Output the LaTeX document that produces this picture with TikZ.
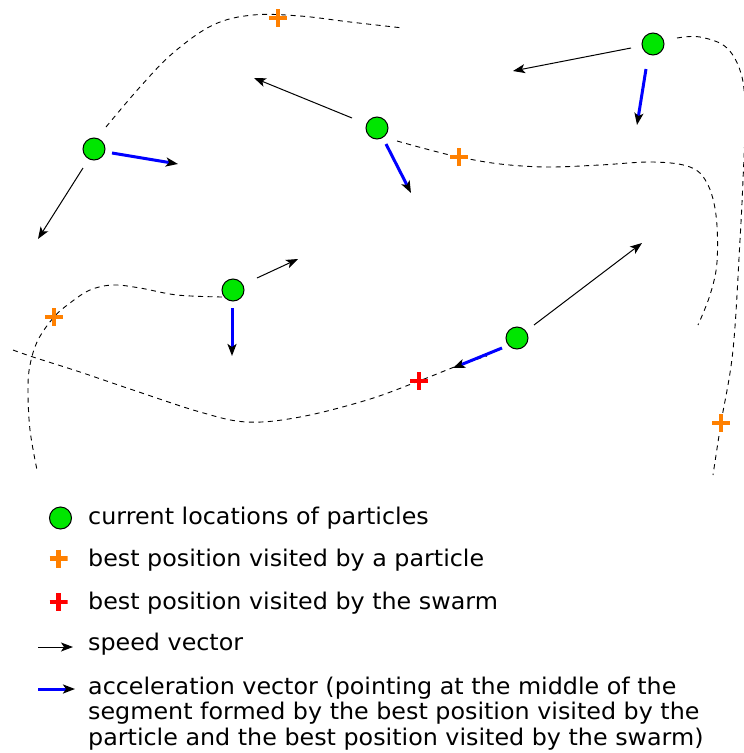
\documentclass[tikz,border=0pt]{standalone}
\usepackage{fontspec}
\setmainfont{DejaVu Sans}[FakeStretch=1.035]
\usetikzlibrary{arrows.meta}
\definecolor{pgreen}{RGB}{0,230,0}
\definecolor{porange}{RGB}{255,128,0}
\definecolor{pred}{RGB}{255,0,0}
\definecolor{pblue}{RGB}{0,0,255}
\tikzset{
  particle/.style={circle, draw=black, line width=1pt, fill=pgreen, minimum size=22pt, inner sep=0pt},
  crossmark/.style={inner sep=0pt, minimum size=18pt, path picture={
      \draw[#1, line width=4.5pt] (path picture bounding box.north) -- (path picture bounding box.south)
        (path picture bounding box.west) -- (path picture bounding box.east);}},
  trail/.style={dash pattern=on 5pt off 4.5pt, line width=0.9pt},
  speedvec/.style={line width=1pt, -{Stealth[length=12pt, width=9pt, inset=3pt]}},
  accvec/.style={pblue, line width=3pt, -{Stealth[length=12pt, width=9pt, inset=3pt, color=black]}},
  legtext/.style={anchor=base west, inner sep=0pt, font=\fontsize{23pt}{26pt}\selectfont},
}
\begin{document}
\begin{tikzpicture}[x=1pt, y=-1pt]
\useasboundingbox (0,0) rectangle (744,753);
% dashed trails
\draw[trail] plot[smooth, tension=0.6] coordinates {(106,127) (140,87) (173,53) (213,25) (253,15) (300,16) (350,22) (403,28)};
\draw[trail] plot[smooth, tension=0.6] coordinates {(397,141) (430,150) (459,157) (500,164) (547,167) (600,165) (653,162) (690,167) (707,183) (716,215) (717,262) (710,295) (698,325)};
\draw[trail] plot[smooth, tension=0.6] coordinates {(677,38) (700,37) (727,48) (742,77) (745,120) (743,180) (740,240) (733,350) (721,423) (713,475)};
\draw[trail] plot[smooth, tension=0.6] coordinates {(222,297) (177,295) (140,288) (113,285) (90,290) (70,303) (54,317) (38,340) (30,365) (28,390) (30,430) (37,470)};
\draw[trail] plot[smooth, tension=0.6] coordinates {(13,350) (33,357) (80,372) (133,390) (200,412) (247,422) (300,417) (367,400) (419,381) (457,366) (487,356)};
% best positions
\node[crossmark=porange] (b1) at (278,18) {};
\node[crossmark=porange] (b2) at (459,157) {};
\node[crossmark=porange] (b3) at (54,317) {};
\node[crossmark=porange] (b4) at (721,423) {};
\node[crossmark=pred] (g) at (419,381) {};
% particles
\node[particle] (p1) at (94,149) {};
\node[particle] (p2) at (377,128) {};
\node[particle] (p3) at (653,44) {};
\node[particle] (p4) at (233,290) {};
\node[particle] (p5) at (517,338) {};
% vector end points
\coordinate (s1a) at (83,168);  \coordinate (s1b) at (38,239);
\coordinate (a1a) at (112,153); \coordinate (a1b) at (178,164);
\coordinate (s2a) at (352,118); \coordinate (s2b) at (254,78);
\coordinate (a2a) at (386,144); \coordinate (a2b) at (411,193);
\coordinate (s3a) at (631,48);  \coordinate (s3b) at (513,71);
\coordinate (a3a) at (646,69);  \coordinate (a3b) at (637,125);
\coordinate (s4a) at (257,278); \coordinate (s4b) at (298,259);
\coordinate (a4a) at (232,308); \coordinate (a4b) at (232,356);
\coordinate (s5a) at (534,325); \coordinate (s5b) at (642,243);
\coordinate (a5a) at (502,348); \coordinate (a5b) at (453,368);
\draw[speedvec] (s1a) -- (s1b);
\draw[speedvec] (s2a) -- (s2b);
\draw[speedvec] (s3a) -- (s3b);
\draw[speedvec] (s4a) -- (s4b);
\draw[speedvec] (s5a) -- (s5b);
\draw[accvec] (a1a) -- (a1b);
\draw[accvec] (a2a) -- (a2b);
\draw[accvec] (a3a) -- (a3b);
\draw[accvec] (a4a) -- (a4b);
\draw[accvec] (a5a) -- (a5b);
% legend
\node[particle] (lp) at (60.5,518) {};
\node[crossmark=porange] (lb) at (58.5,558.5) {};
\node[crossmark=pred] (lg) at (58.5,602) {};
\coordinate (ls1) at (38,647); \coordinate (ls2) at (73,647);
\coordinate (la1) at (38,689); \coordinate (la2) at (75,689);
\draw[speedvec] (ls1) -- (ls2);
\draw[accvec] (la1) -- (la2);
\node[legtext] (t1) at (88,524) {current locations of particles};
\node[legtext] (t2) at (88,566) {best position visited by a particle};
\node[legtext] (t3) at (88,609) {best position visited by the swarm};
\node[legtext] (t4) at (88,650) {speed vector};
\node[legtext] (t5) at (88,694) {acceleration vector (pointing at the middle of the};
\node[legtext] (t6) at (88,719) {segment formed by the best position visited by the};
\node[legtext] (t7) at (88,745) {particle and the best position visited by the swarm)};
\end{tikzpicture}
\end{document}
